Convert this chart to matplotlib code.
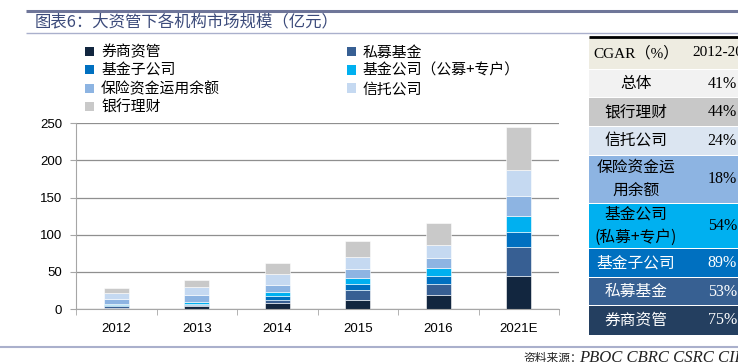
import numpy as np
import matplotlib.pyplot as plt
from matplotlib.patches import Rectangle, Patch

plt.rcParams['font.family'] = ['Noto Sans CJK SC', 'DejaVu Sans']

# data (万亿 scale)
years = ['2012', '2013', '2014', '2015', '2016', '2021E']
names = ['券商资管', '私募基金', '基金子公司', '基金公司（公募+专户）',
         '保险资金运用余额', '信托公司', '银行理财']
quanshang = [1.9, 3.6, 7.6, 11.9, 18.2, 44.0]
simu = [2.2, 1.8, 4.5, 13.5, 15.5, 39.5]
jijinzi = [0.9, 1.8, 6.0, 8.6, 11.0, 20.6]
jijin = [2.0, 2.4, 5.4, 8.4, 11.0, 20.6]
baoxian = [6.9, 8.6, 9.3, 11.2, 13.5, 27.4]
xintuo = [7.5, 11.8, 14.2, 16.0, 16.9, 35.0]
yinhang = [6.8, 9.0, 15.2, 22.4, 29.2, 58.3]
colors = ['#12263f', '#375f93', '#0070c0', '#00b0f0', '#8db4e2', '#c5d9f1', '#c9c9c9']

# CAGR table
tbl_names = ['总体', '银行理财', '信托公司', '保险资金运\n用余额', '基金公司\n(私募+专户)',
             '基金子公司', '私募基金', '券商资管']
tbl_cagr = [41, 44, 24, 18, 54, 89, 53, 75]
tbl_colors = ['#f2f2f2', '#c8c8c8', '#dbe5f1', '#8db4e2', '#00b0f0',
              '#0070c0', '#376092', '#243f60']
tbl_txt = ['black'] * 5 + ['white'] * 3

W, H = 738, 362
fig = plt.figure(figsize=(W / 100, H / 100), dpi=100)

# overlay in pixel coords for title, lines, table
ov = fig.add_axes([0, 0, 1, 1])
ov.set_xlim(0, W)
ov.set_ylim(H, 0)
ov.axis('off')

ov.plot([26, W], [10.5, 10.5], color='#6f7699', lw=2.2, solid_capstyle='butt')
ov.plot([26, W], [33, 33], color='#aab0cc', lw=1.0, solid_capstyle='butt')
ov.text(35, 22, '图表6：大资管下各机构市场规模（亿元）', fontsize=11.8, color='#3b4a7a',
        va='center', ha='left')
ov.plot([0, W], [347, 347], color='#aab0cc', lw=1.5, solid_capstyle='butt')
ov.text(523, 358, '资料来源：', fontsize=8.5, color='#222222', va='center', ha='left')
ov.text(579, 358, 'PBOC CBRC CSRC CIRC', fontsize=12, color='#222222', va='center',
        ha='left', style='italic', family=['Liberation Serif'])

# table
tx0, tx1 = 589, W + 60
edges = [36.7, 69.3, 97.7, 126.7, 155, 203.3, 248.3, 277.3, 305.7, 335]
ov.add_patch(Rectangle((tx0, edges[0]), tx1 - tx0, edges[1] - edges[0],
                       facecolor='#eeece1', edgecolor='none'))
ov.plot([tx0, W], [edges[0], edges[0]], color='black', lw=2, solid_capstyle='butt')
ov.text(593, (edges[0] + edges[1]) / 2, 'CGAR（%）', fontsize=11,
        family=['Liberation Serif', 'Noto Sans CJK SC'], va='center', ha='left')
ov.text(692, (edges[0] + edges[1]) / 2, '2012-2016', fontsize=11,
        family=['Liberation Serif'], va='center', ha='left')
for i, (nm, v, c, tc) in enumerate(zip(tbl_names, tbl_cagr, tbl_colors, tbl_txt)):
    y0, y1 = edges[i + 1], edges[i + 2]
    ov.add_patch(Rectangle((tx0, y0 + 0.5), tx1 - tx0, y1 - y0 - 1,
                           facecolor=c, edgecolor='none'))
    ov.text(636, (y0 + y1) / 2, nm, fontsize=11.3, color=tc, va='center', ha='center',
            linespacing=1.45)
    ov.text(737, (y0 + y1) / 2, f'{v}%', fontsize=11.5, color=tc, va='center', ha='right',
            family=['Liberation Serif'])

# main chart
ax = fig.add_axes([76 / W, 53 / H, 483 / W, 185.7 / H])
series = [quanshang, simu, jijinzi, jijin, baoxian, xintuo, yinhang]
x = np.arange(len(years))
bottom = np.zeros(len(years))
handles = []
for vals, nm, c in zip(series, names, colors):
    ax.bar(x, vals, 0.31, bottom=bottom, color=c, edgecolor='white', linewidth=0.4)
    bottom += np.array(vals)
    handles.append(Patch(facecolor=c, edgecolor='none', label=nm))

ax.set_xlim(-0.5, len(years) - 0.5)
ax.set_ylim(0, 250)
ax.set_yticks(np.arange(0, 251, 50))
ax.set_xticks(x)
ax.set_xticklabels(years, family=['Liberation Sans'], fontsize=9.5)
for lb in ax.get_yticklabels():
    lb.set_family(['Liberation Sans'])
    lb.set_fontsize(9.5)
ax.set_xticks(np.arange(-0.5, len(years), 1), minor=True)
ax.tick_params(axis='x', which='major', length=0, pad=10)
ax.tick_params(axis='x', which='minor', length=4, color='#a6a6a6')
ax.tick_params(axis='y', length=4, color='#a6a6a6', pad=6)
ax.grid(axis='y', color='#8f8f8f', lw=0.9)
ax.set_axisbelow(True)
for s in ['top', 'right']:
    ax.spines[s].set_visible(False)
for s in ['left', 'bottom']:
    ax.spines[s].set_color('#a6a6a6')

order = [0, 2, 4, 6, 1, 3, 5]
fig.legend([handles[i] for i in order], [names[i] for i in order],
           loc='upper left', bbox_to_anchor=(78 / W, 1 - 38 / H), ncol=2,
           frameon=False, fontsize=10.7, handlelength=0.6, handleheight=0.6,
           handletextpad=0.45, labelspacing=0.28, columnspacing=8.55, borderpad=0)

fig.savefig('out.png', dpi=100)
